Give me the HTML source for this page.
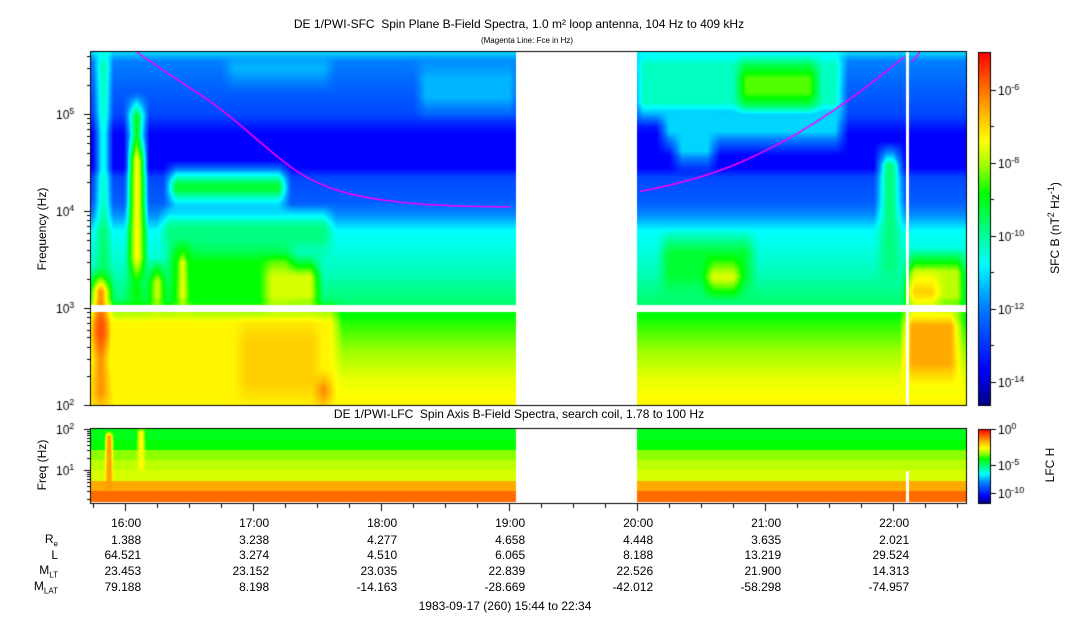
<!DOCTYPE html>
<html><head><meta charset="utf-8"><style>
body{margin:0;background:#fff;width:1083px;height:620px;position:relative;overflow:hidden;font-family:"Liberation Sans",sans-serif;color:#000}
.t{position:absolute;white-space:nowrap;font-size:12px}
canvas{position:absolute}
</style></head><body>
<div class="t" style="left:0;width:1038px;text-align:center;top:17px">DE 1/PWI-SFC&nbsp; Spin Plane B-Field Spectra, 1.0 m² loop antenna, 104 Hz to 409 kHz</div>
<div class="t" style="left:0;width:1054px;text-align:center;top:36px;font-size:8px">(Magenta Line: Fce in Hz)</div>
<div class="t" style="left:0;width:1038px;text-align:center;top:407px">DE 1/PWI-LFC&nbsp; Spin Axis B-Field Spectra, search coil, 1.78 to 100 Hz</div>
<canvas id="c" width="1083" height="620" style="left:0;top:0"></canvas>
<div class="t" style="left:-8px;top:222px;transform:rotate(-90deg);width:100px;text-align:center">Frequency (Hz)</div>
<div class="t" style="left:-8px;top:458px;transform:rotate(-90deg);width:100px;text-align:center">Freq (Hz)</div>
<div class="t" style="left:994px;top:220px;transform:rotate(-90deg);width:120px;text-align:center">SFC B (nT<sup style="font-size:9px">2</sup> Hz<sup style="font-size:9px">-1</sup>)</div>
<div class="t" style="left:1000px;top:458px;transform:rotate(-90deg);width:100px;text-align:center">LFC H</div>
<div id="labels"></div>
<div class="t" style="left:0;width:1010px;text-align:center;top:599px">1983-09-17 (260) 15:44 to 22:34</div>
<script>
// ---- data ----
const hourTicks=["16:00","17:00","18:00","19:00","20:00","21:00","22:00"];
const reVals=["1.388","3.238","4.277","4.658","4.448","3.635","2.021"];
const lVals=["64.521","3.274","4.510","6.065","8.188","13.219","29.524"];
const mltVals=["23.453","23.152","23.035","22.839","22.526","21.900","14.313"];
const mlatVals=["79.188","8.198","-14.163","-28.669","-42.012","-58.298","-74.957"];
const baseLogF=[5.64,5.55,5.3,5.0,4.8,4.45,4.35,4.1,3.95,3.8,3.4,3.03,2.97,2.7,2.3,2.0];
const baseLevel=[0.36,0.28,0.24,0.2,0.1,0.1,0.2,0.23,0.3,0.4,0.45,0.52,0.59,0.65,0.73,0.76];
const featT0=[15.75,15.75,15.80,16.04,16.06,16.2,16.35,16.3,16.4,16.35,17.1,15.75,16.9,17.5,18.3,16.8,20.0,20.8,20.3,20.2,20.55,21.9,22.12,22.12,22.1,20.2];
const featT1=[15.87,15.87,15.86,16.14,16.13,16.3,17.25,17.6,16.5,17.3,17.5,17.65,17.5,17.6,19.05,17.6,21.6,21.4,20.6,20.9,20.8,22.05,22.55,22.35,22.5,21.6];
const featF0=[2.0,2.6,3.0,3.0,3.4,3.0,4.1,3.6,3.0,3.0,3.0,2.0,2.1,2.05,5.05,5.35,5.0,5.1,4.5,3.2,3.2,3.3,3.0,3.05,2.3,4.7];
const featF1=[3.3,2.97,5.64,5.1,4.65,3.4,4.4,3.95,3.6,3.6,3.45,2.97,2.8,2.25,5.5,5.6,5.64,5.5,5.3,3.7,3.45,4.6,3.5,3.3,2.95,5.1];
const featLev=[0.86,0.92,0.56,0.6,0.8,0.72,0.56,0.5,0.74,0.6,0.72,0.76,0.8,0.9,0.33,0.33,0.45,0.64,0.36,0.56,0.73,0.5,0.7,0.8,0.84,0.36];
const lfcBandTop=[2.0,1.75,1.5,1.25,1.0,0.75,0.5];
const lfcBandLev=[0.58,0.6,0.67,0.7,0.72,0.84,0.9];
const lfcFeatT0=[15.85,16.1];const lfcFeatT1=[15.9,16.15];const lfcFeatF0=[0.25,1.0];const lfcFeatF1=[1.9,2.0];const lfcFeatLev=[0.85,0.75];
const fceT=[16.09,16.35,16.66,16.90,17.21,17.44,17.76,18.30,19.01];
const fceF=[5.64,5.40,5.14,4.89,4.53,4.32,4.16,4.06,4.04];
const fceT2=[20.02,20.49,21.12,21.66,22.09];
const fceF2=[4.20,4.32,4.68,5.14,5.59];
const fceT3=[22.15,22.21];const fceF3=[5.54,5.64];
const gapT=[19.05,20.0];const dropT=22.11;
// ---- axes ----
const X0=91,T0=15.7333,PXH=128,X1=966;
const tx=t=>X0+(t-T0)*PXH;
const ty=l=>405-(l-2)*97;
const by=l=>429+(2-l)*41;
const stops=[[0,[0,0,128]],[0.1,[0,0,255]],[0.28,[0,128,255]],[0.4,[0,255,255]],[0.5,[0,255,128]],[0.6,[0,255,0]],[0.68,[160,255,0]],[0.75,[255,255,0]],[0.85,[255,160,0]],[1,[255,0,0]]];
function cmap(v){v=Math.max(0,Math.min(1,v));for(let i=1;i<stops.length;i++){if(v<=stops[i][0]){const a=stops[i-1],b=stops[i],f=(v-a[0])/(b[0]-a[0]);return a[1].map((c,k)=>Math.round(c+(b[1][k]-c)*f));}}return stops[stops.length-1][1];}
function interp(xs,ys,x){if(x>=xs[0])return ys[0];for(let i=1;i<xs.length;i++){if(x>=xs[i]){const f=(x-xs[i])/(xs[i-1]-xs[i]);return ys[i]+(ys[i-1]-ys[i])*f;}}return ys[ys.length-1];}
function soft(v,a,b,e){const s1=Math.min(1,Math.max(0,(v-a)/e+0.5)),s2=Math.min(1,Math.max(0,(b-v)/e+0.5));return s1*s2;}
const cv=document.getElementById('c'),ctx=cv.getContext('2d');
const W=X1-X0;
const img=ctx.createImageData(W,354);
for(let py=0;py<354;py++){const y=52+py;const lf=2+(405-y)/97;
 for(let px=0;px<W;px++){const t=T0+(px+0.5)/PXH;const o=(py*W+px)*4;
  let white=(t>=gapT[0]&&t<gapT[1])||Math.abs(t-dropT)<0.012||(y>=305&&y<=311);
  if(white){img.data[o]=img.data[o+1]=img.data[o+2]=img.data[o+3]=255;continue;}
  let v=interp(baseLogF,baseLevel,lf);
  for(let k=0;k<featT0.length;k++){const w=soft(t,featT0[k],featT1[k],0.1)*soft(lf,featF0[k],featF1[k],0.25);if(w>0){const nv=v+(featLev[k]-v)*w;if(nv>v)v=nv;}}
  const c=cmap(v);img.data[o]=c[0];img.data[o+1]=c[1];img.data[o+2]=c[2];img.data[o+3]=255;}}
ctx.putImageData(img,X0,52);
const img2=ctx.createImageData(W,73);
for(let py=0;py<73;py++){const y=429+py;const lf=2-(y-429)/41;
 for(let px=0;px<W;px++){const t=T0+(px+0.5)/PXH;const o=(py*W+px)*4;
  if((t>=gapT[0]&&t<gapT[1])||(Math.abs(t-dropT)<0.012&&lf<1)){img2.data[o]=img2.data[o+1]=img2.data[o+2]=img2.data[o+3]=255;continue;}
  let v=lfcBandLev[lfcBandLev.length-1];for(let k=0;k<lfcBandTop.length;k++){if(lf<=lfcBandTop[k]&&lf>lfcBandTop[k]-0.25){v=lfcBandLev[k];break;}}
  for(let k=0;k<lfcFeatT0.length;k++){const w=soft(t,lfcFeatT0[k],lfcFeatT1[k],0.03)*soft(lf,lfcFeatF0[k],lfcFeatF1[k],0.15);if(w>0)v=Math.max(v,v+(lfcFeatLev[k]-v)*w);}
  const c=cmap(v);img2.data[o]=c[0];img2.data[o+1]=c[1];img2.data[o+2]=c[2];img2.data[o+3]=255;}}
ctx.putImageData(img2,X0,429);
ctx.strokeStyle='#ff00ff';ctx.lineWidth=1.5;
[[fceT,fceF],[fceT2,fceF2],[fceT3,fceF3]].forEach(([T,F])=>{const P=T.map((t,i)=>[tx(t),ty(F[i])]);ctx.beginPath();ctx.moveTo(P[0][0],P[0][1]);
 if(P.length<3){ctx.lineTo(P[1][0],P[1][1]);}else{for(let i=1;i<P.length-1;i++){const mx=(P[i][0]+P[i+1][0])/2,my=(P[i][1]+P[i+1][1])/2;ctx.quadraticCurveTo(P[i][0],P[i][1],mx,my);}ctx.lineTo(P[P.length-1][0],P[P.length-1][1]);}
 ctx.stroke();});
ctx.strokeStyle='#000';ctx.lineWidth=1;
ctx.strokeRect(90.5,51.5,876,354);ctx.strokeRect(90.5,428.5,876,75);
function cbar(x,y0,y1){for(let y=y0;y<y1;y++){const c=cmap(1-(y-y0)/(y1-y0));ctx.fillStyle=`rgb(${c})`;ctx.fillRect(x,y,12,1);}ctx.strokeRect(x+0.5,y0+0.5,12,y1-y0);}
cbar(978,52,405);cbar(978,429,503);
ctx.fillStyle='#000';
function sup(x,y,b,e){ctx.font='12px "Liberation Sans",sans-serif';ctx.fillText(b,x,y);const w=ctx.measureText(b).width;ctx.font='9px "Liberation Sans",sans-serif';ctx.fillText(e,x+w,y-5);ctx.font='12px "Liberation Sans",sans-serif';}
[[90,'-6'],[163,'-8'],[236,'-10'],[309,'-12'],[382,'-14']].forEach(([y,e])=>{ctx.beginPath();ctx.moveTo(991,y+.5);ctx.lineTo(996,y+.5);ctx.stroke();sup(998,y+5,'10',e);});
[126,199,272,345].forEach(y=>{ctx.beginPath();ctx.moveTo(991,y+.5);ctx.lineTo(994,y+.5);ctx.stroke();});
[[429,'0'],[465,'-5'],[493,'-10']].forEach(([y,e])=>{ctx.beginPath();ctx.moveTo(991,y+.5);ctx.lineTo(996,y+.5);ctx.stroke();sup(998,y+5,'10',e);});
for(let d=2;d<=5;d++){ctx.beginPath();ctx.moveTo(84,ty(d)+.5);ctx.lineTo(91,ty(d)+.5);ctx.stroke();sup(56,ty(d)+5,'10',String(d));
 for(let m=2;m<10;m++){const l=d+Math.log10(m);if(l>5.64)break;const y=Math.round(ty(l))+.5;ctx.beginPath();ctx.moveTo(87,y);ctx.lineTo(91,y);ctx.stroke();}}
[1,2].forEach(d=>{ctx.beginPath();ctx.moveTo(84,by(d)+.5);ctx.lineTo(91,by(d)+.5);ctx.stroke();sup(56,by(d)+5,'10',String(d));});
for(let d=0;d<2;d++)for(let m=2;m<10;m++){const l=d+Math.log10(m);if(l<0.25)continue;const y=Math.round(by(l))+.5;ctx.beginPath();ctx.moveTo(87,y);ctx.lineTo(91,y);ctx.stroke();}
for(let q=0;q<28;q++){const t=15.75+q*0.25;if(t>22.56)break;const x=Math.round(tx(t))+.5;const maj=Math.abs(t-Math.round(t))<1e-6;ctx.beginPath();ctx.moveTo(x,504);ctx.lineTo(x,maj?511:508);ctx.stroke();}
const L=document.getElementById('labels');
function lab(txt,x,y,name,right){const d=document.createElement('div');d.className='t';d.innerHTML=txt;d.style.top=y+'px';if(right){d.style.right=(1083-x)+'px';}else d.style.left=x+'px';


L.appendChild(d);}
lab('R<sub style="font-size:8px">e</sub>',58,532,'row-label-re',true);
lab('L',58,548,'row-label-l',true);
lab('M<sub style="font-size:8px">LT</sub>',58,563,'row-label-mlt',true);
lab('M<sub style="font-size:8px">LAT</sub>',58,579,'row-label-mlat',true);
hourTicks.forEach((h,i)=>{const x=tx(16+i)+16;
lab(h,x,516,'x-tick-label',true);lab(reVals[i],x,533,'re-value',true);lab(lVals[i],x,548,'l-value',true);lab(mltVals[i],x,564,'mlt-value',true);lab(mlatVals[i],x,580,'mlat-value',true);});
</script>
</body></html>
